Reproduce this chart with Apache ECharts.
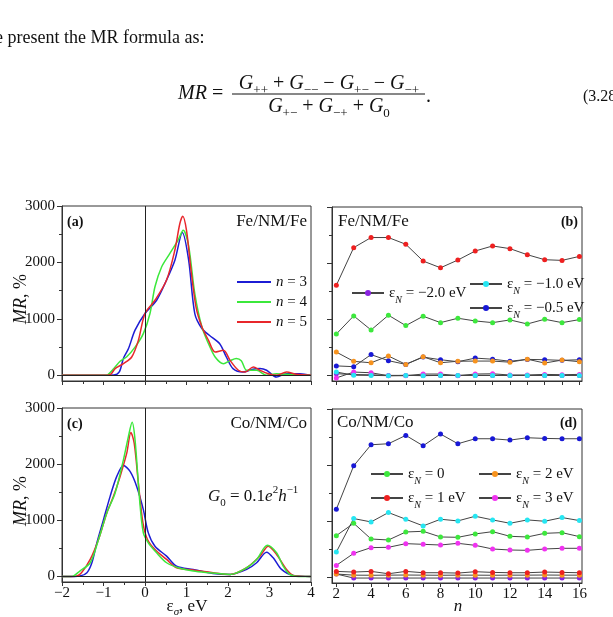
<!DOCTYPE html>
<html>
<head>
<meta charset="utf-8">
<script src="https://cdn.jsdelivr.net/npm/echarts@6.0.0/dist/echarts.min.js"></script>
<style>
html, body { margin: 0; padding: 0; background: #fff; }
#chart { width: 613px; height: 617px; }
</style>
</head>
<body>
<div id="chart"></div>
<script>
// (a) Fe/NM/Fe : MR vs eps, [eps, MR%]
var feN3 = [[-2,0],[-1,0],[-0.75,5],[-0.62,60],[-0.52,300],[-0.4,470],[-0.24,800],[0,1095],[0.28,1330],[0.52,1690],[0.72,2040],[0.9,2530],[1.05,2050],[1.2,1095],[1.37,830],[1.55,710],[1.8,560],[1.96,325],[2.12,120],[2.36,60],[2.6,110],[2.77,120],[2.93,90],[3.17,-30],[3.41,30],[3.73,30],[4,0]];
var feN4 = [[-2,0],[-1,0],[-0.9,10],[-0.75,120],[-0.6,250],[-0.44,330],[-0.24,500],[-0.04,740],[0.12,1095],[0.24,1570],[0.4,1920],[0.6,2160],[0.8,2400],[0.92,2570],[1.05,2300],[1.2,1450],[1.37,860],[1.53,560],[1.69,325],[1.89,207],[2.05,260],[2.2,300],[2.32,260],[2.45,90],[2.69,90],[2.93,0],[3.17,30],[3.57,10],[4,0]];
var feN5 = [[-2,0],[-1,0],[-0.84,10],[-0.72,120],[-0.52,207],[-0.32,325],[-0.16,620],[0,1095],[0.24,1330],[0.52,1690],[0.72,2220],[0.84,2690],[0.91,2820],[1.0,2570],[1.1,1920],[1.23,1210],[1.37,860],[1.53,620],[1.69,414],[1.89,444],[2.05,266],[2.25,90],[2.41,60],[2.61,148],[2.77,90],[2.97,30],[3.17,0],[3.41,60],[3.65,18],[4,0]];

// (c) Co/NM/Co
var coN3 = [[-2,0],[-1.7,0],[-1.57,5],[-1.4,65],[-1.28,243],[-1.16,598],[-1.0,1012],[-0.84,1426],[-0.68,1781],[-0.52,1976],[-0.36,1870],[-0.2,1603],[-0.04,1190],[0.08,775],[0.24,538],[0.52,361],[0.76,183],[1.16,124],[1.64,53],[2.05,35],[2.45,124],[2.69,243],[2.93,430],[3.09,331],[3.29,124],[3.57,18],[4,0]];
var coN4 = [[-2,0],[-1.8,0],[-1.73,5],[-1.57,95],[-1.32,243],[-1.12,657],[-0.92,1130],[-0.72,1485],[-0.52,2077],[-0.4,2491],[-0.31,2745],[-0.24,2432],[-0.13,1367],[-0.04,775],[0.08,598],[0.28,420],[0.52,243],[0.8,154],[1.16,95],[1.56,65],[2.05,35],[2.45,154],[2.69,302],[2.95,556],[3.17,420],[3.33,183],[3.49,35],[3.7,0],[4,0]];
var coN5 = [[-2,0],[-1.75,0],[-1.65,5],[-1.53,65],[-1.32,302],[-1.12,657],[-0.92,1130],[-0.76,1426],[-0.6,1781],[-0.44,2195],[-0.34,2562],[-0.26,2373],[-0.16,1663],[-0.05,953],[0.06,657],[0.24,479],[0.52,302],[0.76,154],[1.16,112],[1.64,65],[2.05,35],[2.45,154],[2.77,361],[2.97,538],[3.17,391],[3.41,124],[3.57,18],[4,0]];

// (b),(d) MR vs number of layers n
var nList = [2, 3, 4, 5, 6, 7, 8, 9, 10, 11, 12, 13, 14, 15, 16];
var nLabels = [2, 4, 6, 8, 10, 12, 14, 16];

var feRed = [1605, 2276, 2456, 2456, 2336, 2037, 1917, 2055, 2216, 2306, 2258, 2150, 2061, 2049, 2120];
var feGreen = [737, 1060, 809, 1072, 887, 1054, 940, 1018, 970, 940, 988, 916, 1000, 940, 994];
var feOrange = [415, 250, 225, 345, 196, 332, 225, 252, 255, 255, 235, 288, 220, 273, 244];
var feBlue = [169, 155, 370, 262, 196, 326, 279, 244, 308, 288, 252, 285, 279, 268, 279];
var feCyan = [60, 3, 0, -5, 0, -5, 0, 0, 0, 0, 0, 0, 0, 0, 0];
var feMagenta = [-45, 59, 47, -6, -6, 24, 24, -6, 24, 29, 6, 6, 18, 12, 18];
var fePurple = [30, 15, 10, 0, 0, 0, 0, 0, 0, 0, 0, 0, 0, 0, 0];

var coBlue = [1214, 1988, 2363, 2381, 2530, 2345, 2554, 2381, 2470, 2470, 2446, 2488, 2476, 2470, 2470];
var coCyan = [452, 1048, 988, 1155, 1036, 917, 1036, 1006, 1089, 1024, 964, 1024, 1000, 1066, 1012];
var coGreen = [744, 964, 684, 666, 809, 821, 720, 714, 774, 815, 732, 720, 785, 797, 726];
var coMagenta = [214, 428, 530, 536, 601, 589, 577, 607, 571, 506, 488, 482, 506, 518, 518];
var coRed = [107, 95, 107, 65, 107, 83, 83, 77, 101, 89, 83, 83, 95, 89, 83];
var coOrange = [60, 40, 38, 40, 42, 40, 38, 40, 40, 38, 40, 40, 42, 40, 40];
var coPurple = [60, -12, -12, -12, -12, -12, -12, -12, -12, -12, -12, -12, -12, -12, -12];

var mrMajor = [0, 1000, 2000, 3000];
var mrMinor = [500, 1500, 2500];

var FONT = '"Liberation Serif", "Times New Roman", serif';
var INK = '#111';
var FRAME = '#333';
var C = {
    red: '#ee2020', green: '#3de83d', orange: '#f7931e', blue: '#1818d6',
    cyan: '#26e6f2', magenta: '#f032f0', purple: '#8a22e0',
    cBlue: '#1c1cd4', cGreen: '#3be83b', cRed: '#e8262b'
};

function minus(v) {
    return String(v).replace('-', '\u2212');
}

function epsAxis(gi, showLabels) {
    return {
        gridIndex: gi, type: 'value', min: -2, max: 4, interval: 1,
        axisLine: { onZero: false, lineStyle: { color: FRAME } },
        axisTick: { length: 4, lineStyle: { color: FRAME } },
        minorTick: { show: true, splitNumber: 2, length: 3, lineStyle: { color: FRAME } },
        splitLine: { show: false },
        axisLabel: { show: showLabels, margin: 4, color: INK, fontFamily: FONT, fontSize: 15, formatter: minus }
    };
}

function nAxis(gi, showLabels) {
    return {
        gridIndex: gi, type: 'value', min: 1.75, max: 16.15,
        axisLine: { onZero: false, lineStyle: { color: FRAME } },
        axisTick: { customValues: nList, length: 4, lineStyle: { color: FRAME } },
        splitLine: { show: false },
        axisLabel: { show: showLabels, customValues: nLabels, margin: 4, color: INK, fontFamily: FONT, fontSize: 15 }
    };
}

function mrAxis(gi, showLabels) {
    return {
        gridIndex: gi, type: 'value', min: -100, max: 3000, position: 'left',
        axisLine: { onZero: false, lineStyle: { color: FRAME } },
        axisTick: { customValues: mrMajor, length: 5, lineStyle: { color: FRAME } },
        splitLine: { show: false },
        axisLabel: {
            show: showLabels, customValues: mrMajor, margin: 7, color: INK, fontFamily: FONT, fontSize: 15,
            formatter: function (v) { return String(v); }
        }
    };
}

// second axis on the same grid only for the short ticks at 500, 1500, 2500
function mrMinorAxis(gi) {
    return {
        gridIndex: gi, type: 'value', min: -100, max: 3000, position: 'left', offset: 0,
        axisLine: { show: false, onZero: false },
        axisTick: { customValues: mrMinor, length: 3, lineStyle: { color: FRAME } },
        splitLine: { show: false },
        axisLabel: { show: false }
    };
}

function curve(name, data, color, xi, yi) {
    return {
        type: 'line', name: name, xAxisIndex: xi, yAxisIndex: yi, data: data,
        smooth: 0.3, symbol: 'none', lineStyle: { color: color, width: 1.5 },
        itemStyle: { color: color }
    };
}

function dots(name, values, color, xi, yi) {
    return {
        type: 'line', name: name, xAxisIndex: xi, yAxisIndex: yi,
        data: nList.map(function (n, i) { return [n, values[i]]; }),
        symbol: 'circle', symbolSize: 5, showAllSymbol: true,
        lineStyle: { color: '#444', width: 1 }, itemStyle: { color: color }
    };
}

function zeroLines() {
    return {
        silent: true, symbol: 'none', label: { show: false },
        lineStyle: { color: '#222', type: 'solid', width: 1 },
        data: [{ xAxis: 0 }, { yAxis: 0 }]
    };
}

var epsRich = {
    e: { fontSize: 15, fontFamily: FONT, color: INK, lineHeight: 24 },
    s: { fontSize: 10, fontFamily: FONT, fontStyle: 'italic', color: INK, lineHeight: 16, verticalAlign: 'bottom' }
};

function epsLegend(left, top, names) {
    return {
        left: left, top: top, orient: 'vertical', selectedMode: false,
        itemWidth: 32, itemHeight: 7.5, itemGap: 0, data: names,
        textStyle: { color: INK, fontFamily: FONT, fontSize: 15, lineHeight: 24, rich: epsRich },
        formatter: function (name) { return name.replace('\u03b5N', '{e|\u03b5}{s|N}'); }
    };
}

function text(x, y, str, opts) {
    var style = {
        text: str, fill: INK, fontFamily: FONT, fontSize: 17,
        textAlign: 'left', align: 'left', textVerticalAlign: 'middle', verticalAlign: 'middle'
    };
    for (var k in opts) style[k] = opts[k];
    return { type: 'text', x: x, y: y, silent: true, style: style };
}

var mathRich = {
    g: { fontSize: 20, fontFamily: FONT, fontStyle: 'italic', color: INK, lineHeight: 26 },
    i: { fontSize: 20, fontFamily: FONT, fontStyle: 'italic', color: INK, lineHeight: 26 },
    s: { fontSize: 13, fontFamily: FONT, color: INK, lineHeight: 16, verticalAlign: 'bottom' }
};
var g0Rich = {
    g: { fontSize: 17, fontFamily: FONT, fontStyle: 'italic', color: INK, lineHeight: 24 },
    i: { fontSize: 17, fontFamily: FONT, fontStyle: 'italic', color: INK, lineHeight: 24 },
    s: { fontSize: 11, fontFamily: FONT, color: INK, lineHeight: 14, verticalAlign: 'bottom' },
    p: { fontSize: 11, fontFamily: FONT, color: INK, lineHeight: 14, verticalAlign: 'top' }
};
var M = '\u2212';

var graphics = [
    text(-5, 38, 'e present the MR formula as:', { fontSize: 18 }),
    text(178, 94, '{i|MR} =', { rich: mathRich, fontSize: 20, lineHeight: 26 }),
    text(329, 84, '{g|G}{s|++} + {g|G}{s|' + M + M + '} ' + M + ' {g|G}{s|+' + M + '} ' + M + ' {g|G}{s|' + M + '+}',
        { rich: mathRich, fontSize: 20, lineHeight: 26, textAlign: 'center', align: 'center' }),
    { type: 'line', silent: true, shape: { x1: 232, y1: 94, x2: 425, y2: 94 }, style: { stroke: INK, lineWidth: 1 } },
    text(329, 107, '{g|G}{s|+' + M + '} + {g|G}{s|' + M + '+} + {g|G}{s|0}',
        { rich: mathRich, fontSize: 20, lineHeight: 26, textAlign: 'center', align: 'center' }),
    text(426, 97, '.', { fontSize: 20 }),
    text(583, 97, '(3.28', { fontSize: 16 }),

    text(67, 222, '(a)', { fontSize: 14, fontWeight: 'bold' }),
    text(307, 222, 'Fe/NM/Fe', { textAlign: 'right', align: 'right' }),
    text(578, 222, '(b)', { fontSize: 14, fontWeight: 'bold', textAlign: 'right', align: 'right' }),
    text(338, 222, 'Fe/NM/Fe', {}),
    text(67, 424, '(c)', { fontSize: 14, fontWeight: 'bold' }),
    text(307, 424, 'Co/NM/Co', { textAlign: 'right', align: 'right' }),
    text(208, 497, '{g|G}{s|0} = 0.1{i|e}{p|2}{i|h}{p|' + M + '1}', { rich: g0Rich, lineHeight: 24 }),
    text(577, 423, '(d)', { fontSize: 14, fontWeight: 'bold', textAlign: 'right', align: 'right' }),
    text(337, 423, 'Co/NM/Co', {}),

    text(187, 607, '{e|\u03b5}{s|\u03c3}, eV', {
        rich: { e: { fontSize: 17, fontFamily: FONT, color: INK, lineHeight: 22 },
                s: { fontSize: 11, fontFamily: FONT, fontStyle: 'italic', color: INK, lineHeight: 14, verticalAlign: 'bottom' } },
        lineHeight: 22, textAlign: 'center', align: 'center'
    }),
    text(458, 607, 'n', { fontStyle: 'italic', textAlign: 'center', align: 'center' })
];
[299, 501].forEach(function (cy) {
    var t = text(21, cy, '{i|MR}, %', {
        rich: { i: { fontSize: 18, fontFamily: FONT, fontStyle: 'italic', color: INK } },
        fontSize: 18, textAlign: 'center', align: 'center'
    });
    t.rotation = Math.PI / 2;
    graphics.push(t);
});

var gridBase = { show: true, borderColor: FRAME, borderWidth: 1, containLabel: false, outerBoundsMode: 'none' };
function grid(l, t, w, h) {
    var g = { left: l, top: t, width: w, height: h };
    for (var k in gridBase) g[k] = gridBase[k];
    return g;
}

var blueA = curve('n = 3', feN3, C.cBlue, 0, 0);
blueA.markLine = zeroLines();
var blueC = curve('n = 3 (c)', coN3, C.cBlue, 2, 4);
blueC.markLine = zeroLines();

var option = {
    animation: false,
    backgroundColor: '#fff',
    grid: [
        grid(62, 206, 249, 175),
        grid(332, 207, 250, 174),
        grid(62, 408, 249, 174),
        grid(332, 409, 250, 174)
    ],
    xAxis: [epsAxis(0, false), nAxis(1, false), epsAxis(2, true), nAxis(3, true)],
    yAxis: [
        mrAxis(0, true), mrMinorAxis(0),
        mrAxis(1, false), mrMinorAxis(1),
        mrAxis(2, true), mrMinorAxis(2),
        mrAxis(3, false), mrMinorAxis(3)
    ],
    legend: [
        {
            left: 232, top: 267, orient: 'vertical', selectedMode: false, icon: 'rect',
            itemWidth: 34, itemHeight: 2, itemGap: 0, data: ['n = 3', 'n = 4', 'n = 5'],
            textStyle: {
                color: INK, fontFamily: FONT, fontSize: 15, lineHeight: 20,
                rich: { i: { fontSize: 15, fontFamily: FONT, fontStyle: 'italic', color: INK, lineHeight: 20 } }
            },
            formatter: function (name) { return '{i|n}' + name.slice(1); }
        },
        epsLegend(346, 276, ['\u03b5N = ' + M + '2.0 eV']),
        epsLegend(464, 267, ['\u03b5N = ' + M + '1.0 eV', '\u03b5N = ' + M + '0.5 eV']),
        epsLegend(365, 457, ['\u03b5N = 0', '\u03b5N = 1 eV']),
        epsLegend(473, 457, ['\u03b5N = 2 eV', '\u03b5N = 3 eV'])
    ],
    graphic: { elements: graphics },
    series: [
        blueA,
        curve('n = 4', feN4, C.cGreen, 0, 0),
        curve('n = 5', feN5, C.cRed, 0, 0),

        dots('\u03b5N = ' + M + '2.0 eV', fePurple, C.purple, 1, 2),
        dots('\u03b5N = 3.0 eV', feMagenta, C.magenta, 1, 2),
        dots('\u03b5N = ' + M + '1.0 eV', feCyan, C.cyan, 1, 2),
        dots('\u03b5N = ' + M + '0.5 eV', feBlue, C.blue, 1, 2),
        dots('\u03b5N = 2.0 eV', feOrange, C.orange, 1, 2),
        dots('\u03b5N = 0.0 eV', feGreen, C.green, 1, 2),
        dots('\u03b5N = 1.0 eV', feRed, C.red, 1, 2),

        blueC,
        curve('n = 5 (c)', coN5, C.cRed, 2, 4),
        curve('n = 4 (c)', coN4, C.cGreen, 2, 4),

        dots('\u03b5N = ' + M + '2.0 eV (d)', coPurple, C.purple, 3, 6),
        dots('\u03b5N = 2 eV', coOrange, C.orange, 3, 6),
        dots('\u03b5N = 1 eV', coRed, C.red, 3, 6),
        dots('\u03b5N = 3 eV', coMagenta, C.magenta, 3, 6),
        dots('\u03b5N = 0', coGreen, C.green, 3, 6),
        dots('\u03b5N = ' + M + '1.0 eV (d)', coCyan, C.cyan, 3, 6),
        dots('\u03b5N = ' + M + '0.5 eV (d)', coBlue, C.blue, 3, 6)
    ]
};

var chart = echarts.init(document.getElementById('chart'));
chart.setOption(option);
</script>
</body>
</html>
